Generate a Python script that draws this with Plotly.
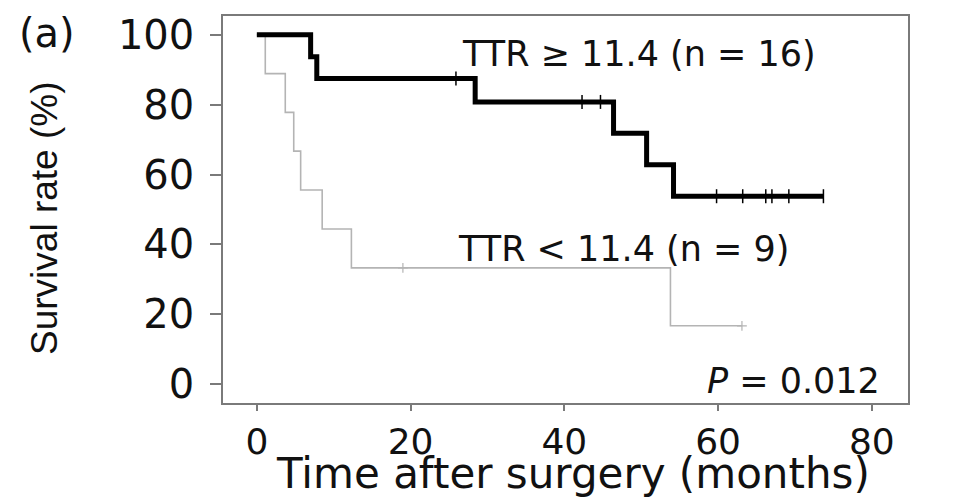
import plotly.graph_objects as go

# TTR >= 11.4 (n = 16)
hi_time = [0, 7.0, 7.8, 28.4, 46.4, 50.7, 54.2, 73.7]
hi_surv = [100, 93.75, 87.5, 80.8, 71.8, 62.8, 53.8, 53.8]
hi_cens_time = [25.9, 42.3, 44.7, 59.8, 63.2, 66.2, 67.0, 69.2, 73.7]
hi_cens_surv = [87.5, 80.8, 80.8, 53.8, 53.8, 53.8, 53.8, 53.8, 53.8]

# TTR < 11.4 (n = 9)
lo_time = [0, 1.1, 3.7, 4.8, 5.7, 8.5, 12.3, 53.8, 63.1]
lo_surv = [100, 88.9, 77.8, 66.7, 55.6, 44.4, 33.3, 16.7, 16.7]
lo_cens_time = [19.0, 63.1]
lo_cens_surv = [33.3, 16.7]

x_ticks = [0, 20, 40, 60, 80]
y_ticks = [0, 20, 40, 60, 80, 100]

FONT = "DejaVu Sans"
GRAY_AX = "#7a7a7a"

fig = go.Figure()
fig.add_trace(go.Scatter(x=lo_time, y=lo_surv, mode="lines", line_shape="hv",
                         line=dict(color="#b4b4b4", width=1.6), showlegend=False, hoverinfo="skip"))
fig.add_trace(go.Scatter(x=lo_cens_time, y=lo_cens_surv, mode="markers",
                         marker=dict(symbol="cross-thin", size=7, line=dict(color="#b4b4b4", width=1.2)),
                         showlegend=False))
fig.add_trace(go.Scatter(x=hi_time, y=hi_surv, mode="lines", line_shape="hv",
                         line=dict(color="#000000", width=5), showlegend=False, hoverinfo="skip"))
fig.add_trace(go.Scatter(x=hi_cens_time, y=hi_cens_surv, mode="markers",
                         marker=dict(symbol="line-ns", size=10, line=dict(color="#000000", width=1.5)),
                         showlegend=False))

fig.update_layout(
    width=974, height=500,
    margin=dict(l=223, r=66, t=16, b=97, autoexpand=False),
    paper_bgcolor="white", plot_bgcolor="white",
    font=dict(family=FONT, color="#111111"),
    xaxis=dict(range=[-4.4, 84.7], tickvals=x_ticks, ticks="outside", ticklen=6, tickwidth=1.5,
               tickcolor=GRAY_AX, showline=True, linecolor=GRAY_AX, linewidth=1.5, mirror=True,
               showgrid=False, zeroline=False, automargin=False,
               tickfont=dict(family=FONT, size=36, color="#111111")),
    yaxis=dict(range=[-5.4, 105.4], tickvals=y_ticks, ticks="outside", ticklen=11, tickwidth=1.5,
               tickcolor=GRAY_AX, showline=True, linecolor=GRAY_AX, linewidth=1.5, mirror=True,
               showgrid=False, zeroline=False, ticklabelstandoff=8, automargin=False,
               tickfont=dict(family=FONT, size=40, color="#111111")),
)

ann = [
    dict(text="TTR ≥ 11.4 (n = 16)", x=49.7, y=94.6, xref="x", yref="y",
         font=dict(family=FONT, size=35)),
    dict(text="TTR < 11.4 (n = 9)", x=47.7, y=38.7, xref="x", yref="y",
         font=dict(family=FONT, size=35)),
    dict(text="<i>P</i> = 0.012", x=81.3, y=1.0, xref="x", yref="y", xanchor="right",
         font=dict(family=FONT, size=35)),
    dict(text="(a)", x=(47 - 223) / 685, y=(403 - 33) / 387, xref="paper", yref="paper",
         font=dict(family=FONT, size=40)),
    dict(text="Time after surgery (months)", x=(573 - 223) / 685, y=(403 - 500) / 387,
         xref="paper", yref="paper", yanchor="bottom", font=dict(family=FONT, size=42)),
    dict(text="Survival rate (%)", x=(44 - 223) / 685, y=(403 - 218) / 387, textangle=-90,
         xref="paper", yref="paper", font=dict(family="Liberation Sans", size=37)),
]
for a in ann:
    a.setdefault("showarrow", False)
    a.setdefault("xanchor", "center")
    a.setdefault("yanchor", "middle")
    fig.add_annotation(**a)

fig.write_html("out.html", config={"displayModeBar": False},
               post_script="document.body.style.margin='0';document.body.style.padding='0';")
